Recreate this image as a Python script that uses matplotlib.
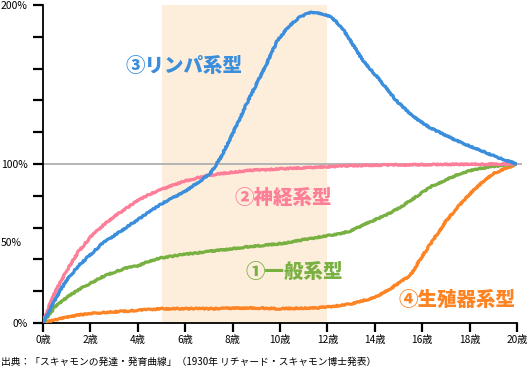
import matplotlib
matplotlib.use('Agg')
import matplotlib.pyplot as plt

plt.rcParams['font.family'] = ['Noto Sans CJK JP', 'DejaVu Sans']

# growth curves (% of size at age 20)
lymph_age = [0, 0.25, 0.5, 0.75, 1, 1.5, 2, 2.5, 3, 3.5, 4, 4.5, 5, 5.9, 6.6,
             7.05, 7.5, 8.0, 8.66, 9.37, 9.9, 10.4, 10.8, 11.2, 11.5, 11.9,
             12.2, 12.6, 12.95, 13.5, 14.2, 14.9, 15.6, 16.3, 17.0, 17.7,
             18.4, 19.2, 20]
lymph_val = [0, 7, 14, 21, 27, 36, 43, 50, 55, 60, 65, 70, 75, 82, 89,
             94, 104, 119, 140, 161, 178, 187, 192, 195, 195.5, 194,
             192, 186, 178, 165, 153, 140, 130, 123, 118, 113,
             109, 104, 100]

neural_age = [0, 0.25, 0.5, 0.75, 1, 1.5, 2, 2.5, 3, 3.5, 4, 4.5, 5, 5.9, 7,
              8.7, 10.1, 11.6, 13, 15, 17, 20]
neural_val = [0, 10, 19, 26, 33, 45, 54, 61, 67, 72, 77, 81, 84, 89, 93,
              96, 97, 98, 99, 99.5, 99.7, 100]

general_age = [0, 0.25, 0.5, 0.75, 1, 1.5, 2, 2.5, 3, 3.5, 4, 4.5, 5, 5.9, 7,
               8.7, 10.1, 11.6, 12.5, 13.0, 13.7, 14.5, 15.2, 15.8, 16.4,
               17.0, 17.6, 18.2, 19.0, 20]
general_val = [0, 5, 10, 13, 16, 21, 25, 29, 32, 34.5, 36, 39, 41, 43, 45,
               48, 50, 54, 56, 58, 63, 68, 74, 80, 86,
               90, 94, 96.5, 98.5, 100]

repro_age = [0, 0.25, 0.5, 1, 1.5, 2, 3, 4, 5, 7, 8.7, 10, 11.6, 12.5, 13,
             14.0, 14.6, 15.5, 16.0, 16.5, 17.0, 17.5, 18.0, 18.5, 19.0,
             19.5, 20]
repro_val = [0, 1, 2, 3.5, 5, 6, 7, 8, 9, 9, 9.5, 9, 9.5, 11, 12,
             16, 21, 30, 42, 53, 64, 73, 81, 88, 94,
             97, 100]

x_ticks = list(range(0, 21, 2))
x_labels = ['{}歳'.format(a) for a in x_ticks]
y_ticks = list(range(0, 201, 20))
y_labels = {0: '0%', 100: '100%', 200: '200%'}

fig = plt.figure(figsize=(5.29, 3.70), dpi=100)
ax = fig.add_axes([43 / 529, 47 / 370, 474 / 529, 318 / 370])

# adolescence band
ax.axvspan(5, 12, color='#fdeedb', lw=0, zorder=0)
ax.plot([0, 20.15], [100, 100], color='#b4b4b4', lw=1.4, clip_on=False, zorder=1)

series = [
    (repro_age, repro_val, '#fd8424'),
    (general_age, general_val, '#78b042'),
    (neural_age, neural_val, '#fd7e98'),
    (lymph_age, lymph_val, '#3b8edc'),
]
for ages, vals, col in series:
    ln, = ax.plot(ages, vals, color=col, lw=2.3, solid_capstyle='round',
                  solid_joinstyle='round', zorder=3)
    ln.set_sketch_params(scale=0.6, length=3, randomness=4)

labels = [
    (5.93, 161.5, '③リンパ系型', '#3b8edc'),
    (10.13, 78.6, '②神経系型', '#fd7e98'),
    (10.59, 32.0, '①一般系型', '#78b042'),
    (17.49, 14.5, '④生殖器系型', '#fd8424'),
]
for x, y, s, col in labels:
    ax.text(x, y, s, color=col, fontsize=14, fontweight='black',
            ha='center', va='center', zorder=4)

ax.set_xlim(0, 20)
ax.set_ylim(0, 200)
ax.set_xticks(x_ticks)
ax.set_xticklabels(x_labels, fontsize=7.3)
ax.set_yticks(y_ticks)
ax.set_yticklabels([y_labels.get(v, '') for v in y_ticks], fontsize=7.5)
ax.text(-0.9, 50, '50%', fontsize=7.5, ha='right', va='center')

for side in ['top', 'right']:
    ax.spines[side].set_visible(False)
for side in ['left', 'bottom']:
    ax.spines[side].set_linewidth(1.3)
ax.tick_params(axis='x', length=6.5, width=1.6, pad=2.5)
ax.tick_params(axis='y', length=7.5, width=1.6, pad=3.5)

fig.text(0.002, 1 - 362 / 370,
         '出典：「スキャモンの発達・発育曲線」（1930年 リチャード・スキャモン博士発表）',
         fontsize=7.0, ha='left', va='center')

fig.savefig('out.png', dpi=100)
